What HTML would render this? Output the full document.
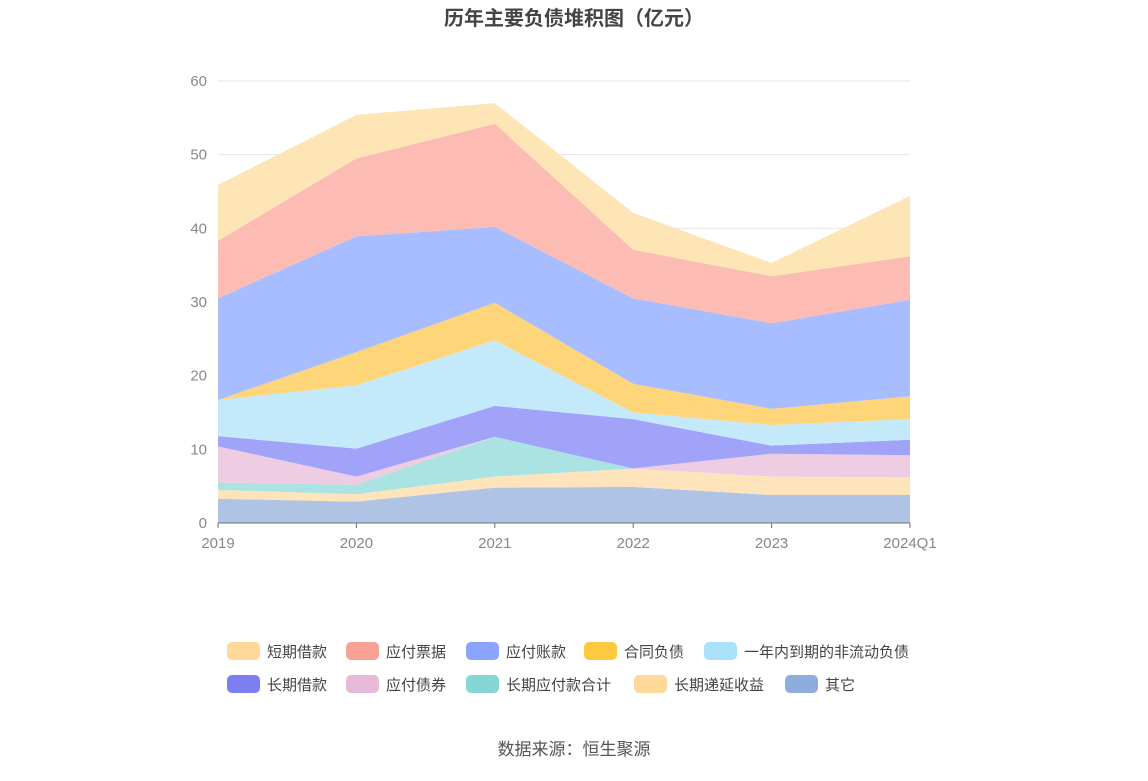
<!DOCTYPE html>
<html><head><meta charset="utf-8"><style>
body{margin:0;background:#fff;width:1148px;height:776px;overflow:hidden;font-family:"Liberation Sans","Noto Sans CJK SC",sans-serif}
</style></head><body>
<svg id="chart" width="1148" height="776" xmlns="http://www.w3.org/2000/svg" font-family="Liberation Sans, Noto Sans CJK SC, sans-serif">
<text x="574" y="25" text-anchor="middle" font-size="20" font-weight="bold" fill="#444">历年主要负债堆积图（亿元）</text>
<g id="grid"></g><g id="areas"></g><g id="axes"></g><g id="legend"></g>
<text x="574" y="755" text-anchor="middle" font-size="17" fill="#555">数据来源：恒生聚源</text>
</svg>
<script>
const categories=["2019","2020","2021","2022","2023","2024Q1"];
const yTicks=[0,10,20,30,40,50,60];
const seriesNames=["其它","长期递延收益","长期应付款合计","应付债券","长期借款","一年内到期的非流动负债","合同负债","应付账款","应付票据","短期借款"];
const other=[3.3,2.9,4.8,4.9,3.8,3.8];
const deferredIncome=[1.2,1.0,1.5,2.5,2.5,2.4];
const longTermPayables=[1.0,1.3,5.4,0,0,0];
const bondsPayable=[4.9,1.1,0,0,3.1,3.0];
const longTermBorrowings=[1.4,3.8,4.2,6.7,1.1,2.1];
const currentNonCurrent=[4.9,8.6,8.9,0.9,2.8,2.8];
const contractLiabilities=[0,4.5,5.1,3.9,2.2,3.1];
const accountsPayable=[13.8,15.7,10.3,11.6,11.6,13.1];
const notesPayable=[7.8,10.6,14.0,6.6,6.4,5.9];
const shortBorrowings=[7.6,5.9,2.8,5.0,1.8,8.2];
const seriesData=[other,deferredIncome,longTermPayables,bondsPayable,longTermBorrowings,currentNonCurrent,contractLiabilities,accountsPayable,notesPayable,shortBorrowings];
const fills=["#afc4e4","#fde4bb","#abe3e2","#eecde3","#a0a3f8","#c3e9fb","#ffd57a","#a8bdff","#fcbcb4","#fde5b6"];
const swatches=["#8eacdc","#ffd89a","#87d6d6","#e9b9d9","#7b7ff0","#a9e2fa","#ffc93f","#8aa4ff","#f8a296","#ffd89a"];
const NS="http://www.w3.org/2000/svg";
const x0=218,x1=910,y0=523,y1=81,yMax=60;
const xS=i=>x0+i*(x1-x0)/(categories.length-1);
const yS=v=>y0-v*(y0-y1)/yMax;
function mk(t,a,p){const e=document.createElementNS(NS,t);for(const k in a)e.setAttribute(k,a[k]);p.appendChild(e);return e;}
const grid=document.getElementById('grid'),axes=document.getElementById('axes'),areas=document.getElementById('areas'),legend=document.getElementById('legend');
yTicks.forEach(v=>{
 const l=mk('line',{x1:x0,x2:x1,y1:yS(v),y2:yS(v),stroke:'#e6e6e6'},grid);
 
 
 const t=mk('text',{x:207,y:yS(v)+5,'text-anchor':'end','font-size':15,fill:'#888'},axes);t.textContent=v;
 
 
});
let cum=categories.map(()=>0);
seriesData.forEach((s,k)=>{
 const top=cum.map((c,i)=>c+s[i]);
 let d='';
 top.forEach((v,i)=>{d+=(i?'L':'M')+xS(i)+','+yS(v);});
 for(let i=categories.length-1;i>=0;i--)d+='L'+xS(i)+','+yS(cum[i]);
 const p=mk('path',{d:d+'Z',fill:fills[k],stroke:'none'},areas);
 
 
 cum=top;
});
const ax=mk('line',{x1:x0,x2:x1,y1:y0,y2:y0,stroke:'#6e7079'},axes);


categories.forEach((c,i)=>{
 mk('line',{x1:xS(i),x2:xS(i),y1:y0,y2:y0+5,stroke:'#6e7079'},axes);
 const t=mk('text',{x:xS(i),y:548,'text-anchor':'middle','font-size':15,fill:'#888'},axes);t.textContent=c;
 
 
});
const legOrder=[9,8,7,6,5,4,3,2,1,0];
const legX=[227,346,466,584,704,227,346,466,634,785];
legOrder.forEach((k,j)=>{
 const y=j<5?651:684;
 const g=mk('g',{},legend);
 
 
 mk('rect',{x:legX[j],y:y-9,width:33,height:18,rx:5,fill:swatches[k]},g);
 const t=mk('text',{x:legX[j]+40,y:y+6,'font-size':15,fill:'#444'},g);t.textContent=seriesNames[k];
});
</script>
</body></html>
